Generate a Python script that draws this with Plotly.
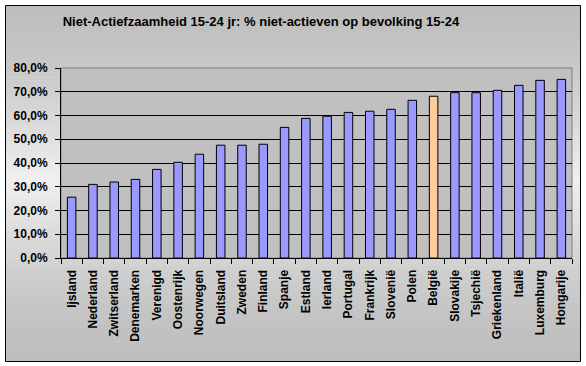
import plotly.graph_objects as go

countries = ["Ijsland", "Nederland", "Zwitserland", "Denemarken", "Verenigd", "Oostenrijk",
             "Noorwegen", "Duitsland", "Zweden", "Finland", "Spanje", "Estland", "Ierland",
             "Portugal", "Frankrijk", "Slovenië", "Polen", "België", "Slovakije", "Tsjechië",
             "Griekenland", "Italië", "Luxemburg", "Hongarije"]
values = [25.6, 31.0, 32.0, 33.1, 37.3, 40.3, 43.7, 47.5, 47.5, 47.9, 55.0, 58.8, 59.7,
          61.3, 61.8, 62.6, 66.4, 68.1, 69.6, 69.6, 70.6, 72.7, 74.8, 75.2]
highlight = "België"
y_ticks = [0, 0.1, 0.2, 0.3, 0.4, 0.5, 0.6, 0.7, 0.8]

W, H = 586, 366
ML, MR, MT, MB = 61, 14, 68, 108
PW, PH = W - ML - MR, H - MT - MB

def px_x(px):
    return (px - ML) / PW

def px_y(py):
    return (H - MB - py) / PH

colors = ["#FFCC99" if c == highlight else "#9999FF" for c in countries]
FONT = "Liberation Sans, Arial, sans-serif"

fig = go.Figure(go.Bar(
    x=countries, y=[v / 100 for v in values],
    marker=dict(color=colors, line=dict(color="black", width=1)),
))

shapes = []
# outer chart area gradient (light band in the middle)
top, bot, peak = 5, 361, 180
n = 90
step = (bot - top) / n
for i in range(n):
    y0 = top + i * step
    y1 = y0 + step + 0.6
    yc = y0 + step / 2
    d = abs(yc - peak) / (peak - top if yc < peak else bot - peak)
    g = int(round(190 + (240 - 190) * (1 - d) ** 1.5))
    shapes.append(dict(type="rect", xref="paper", yref="paper", layer="below",
                       x0=px_x(5), x1=px_x(580), y0=px_y(min(y1, bot)), y1=px_y(y0),
                       fillcolor=f"rgb({g},{g},{g})", line=dict(width=0)))
# outer border
shapes.append(dict(type="rect", xref="paper", yref="paper", layer="below",
                   x0=px_x(5.5), x1=px_x(580.5), y0=px_y(361.5), y1=px_y(5.5),
                   fillcolor="rgba(0,0,0,0)", line=dict(color="black", width=1)))
# plot area
shapes.append(dict(type="rect", xref="paper", yref="paper", layer="below",
                   x0=0, x1=1, y0=0, y1=1,
                   fillcolor="#C0C0C0", line=dict(color="#808080", width=1)))

fig.update_layout(
    width=W, height=H, autosize=False,
    margin=dict(l=ML, r=MR, t=MT, b=MB, pad=0, autoexpand=False),
    paper_bgcolor="white", plot_bgcolor="rgba(0,0,0,0)",
    separators=",.",
    bargap=0.6,
    showlegend=False,
    shapes=shapes,
    font=dict(family=FONT, color="black", size=12, weight="bold"),
    title=dict(text="Niet-Actiefzaamheid 15-24 jr: % niet-actieven op bevolking 15-24",
               x=261 / W, xanchor="center", xref="container",
               y=1 - 21 / H, yanchor="middle", yref="container",
               font=dict(family=FONT, size=13, color="black", weight="bold")),
    xaxis=dict(type="category", tickangle=-90, tickson="boundaries",
               ticks="outside", ticklen=5, tickcolor="black", tickwidth=1,
               ticklabelstandoff=6, automargin=False,
               showline=True, linecolor="black", linewidth=1,
               showgrid=False, zeroline=False,
               tickfont=dict(family=FONT, size=12, color="black", weight="bold")),
    yaxis=dict(range=[0, 0.8], tickvals=y_ticks, tickformat=".1%",
               ticks="outside", ticklen=5, tickcolor="black", tickwidth=1,
               ticklabelstandoff=5, automargin=False,
               showline=True, linecolor="black", linewidth=1,
               showgrid=True, gridcolor="black", gridwidth=1, zeroline=False,
               tickfont=dict(family=FONT, size=12, color="black", weight="bold")),
)

fig.write_html("out.html",
               config={"displayModeBar": False, "staticPlot": True},
               post_script="document.body.style.margin='0';document.body.style.overflow='hidden';")
